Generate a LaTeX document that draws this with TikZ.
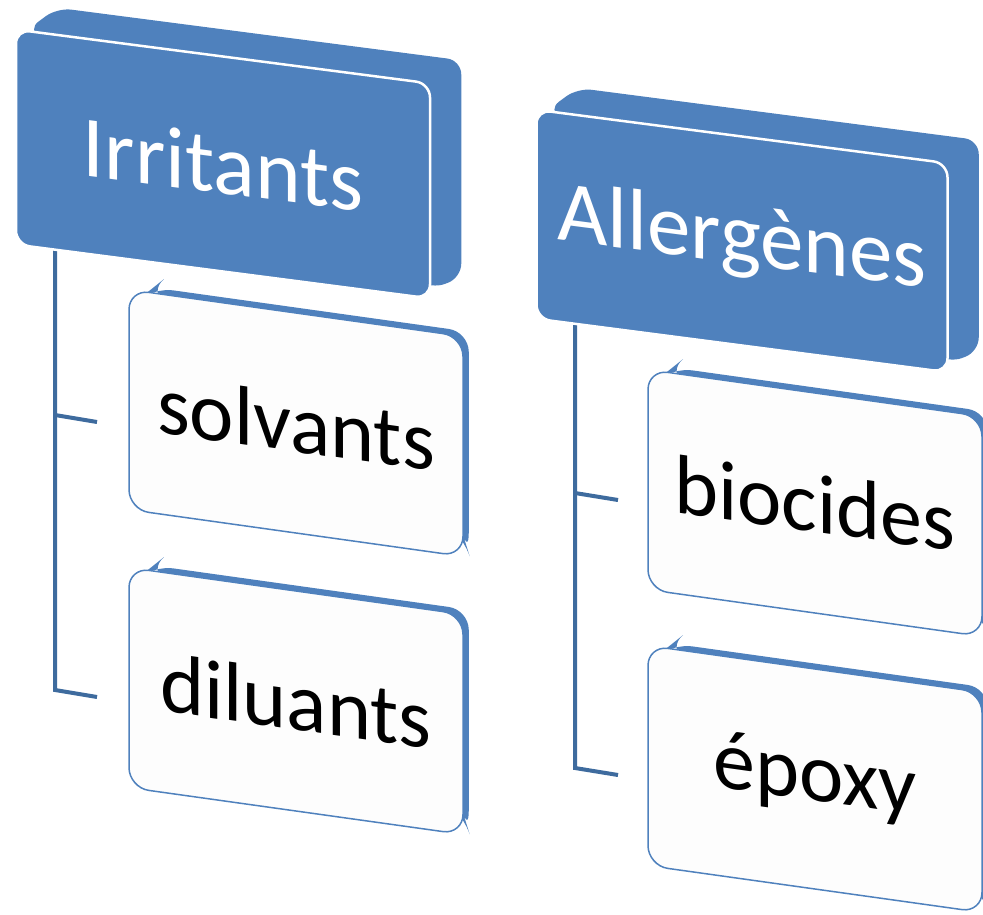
\documentclass[tikz,border=0pt]{standalone}
\usepackage{fontspec}
\setmainfont{Carlito}
\usetikzlibrary{calc,backgrounds}
\definecolor{cBlue}{HTML}{4F81BD}
\definecolor{cLine}{HTML}{3E6B9E}
\definecolor{cPaper}{HTML}{FDFDFD}
\tikzset{
  head/.style={fill=cBlue, draw=white, line width=2.5pt, rounded corners=14pt,
               text=white, font=\fontsize{87}{90}\selectfont,
               minimum width=414pt, minimum height=215pt, yslant=-0.13},
  item/.style={fill=cPaper, draw=cBlue, line width=1.5pt, rounded corners=20pt,
               text=black, font=\fontsize{84}{88}\selectfont,
               minimum width=334pt, minimum height=220pt, yslant=-0.14},
  slab/.style={fill=cBlue, rounded corners=14pt},
  tree/.style={draw=cLine, line width=4pt}
}
\begin{document}
\begin{tikzpicture}[x=1pt, y=1pt]
\useasboundingbox (0,0) rectangle (983,-914);
% heads
\node[head] (irr) at (223,-164) {Irritants};
\node[head, minimum width=411pt, minimum height=209pt] (all) at (742,-241) {Allergènes};
% items
\node[item] (solv) at (296,-423) {solvants};
\node[item] (dilu) at (296,-701) {diluants};
\node[item] (bioc) at (815,-503) {biocides};
\node[item] (epox) at (815,-779) {époxy};
% tree ends
\coordinate (irrFoot) at (55,-240); \coordinate (irrMid) at (55,-415); \coordinate (irrEnd) at (55,-690);
\coordinate (solvIn) at (97,-422); \coordinate (diluIn) at (97,-697);
\coordinate (allFoot) at (575,-315); \coordinate (allMid) at (575,-493); \coordinate (allEnd) at (575,-768);
\coordinate (biocIn) at (618,-500); \coordinate (epoxIn) at (618,-775);
\begin{scope}[on background layer]
\foreach \b in {irr,all}
  \fill[slab] ($(\b.north west)!0.03!(\b.north east)$) -- ++(30,22) -- ($(\b.north east)+(30,22)$)
    -- ($(\b.south east)+(30,22)$) -- ($(\b.south east)!0.05!(\b.north east)$) -- cycle;
\foreach \b in {solv,dilu,bioc,epox}
  \fill[slab, rounded corners=20pt] ($(\b.north west)!0.06!(\b.north east)$) -- ++(5,4) -- ($(\b.north east)+(5,4)$)
    -- ($(\b.south east)+(5,4)$) -- ($(\b.south east)!0.09!(\b.north east)$) -- cycle;
\draw[tree] (irrFoot) -- (irrEnd) -- (diluIn); \draw[tree] (irrMid) -- (solvIn);
\draw[tree] (allFoot) -- (allEnd) -- (epoxIn); \draw[tree] (allMid) -- (biocIn);
\end{scope}
\end{tikzpicture}
\end{document}
